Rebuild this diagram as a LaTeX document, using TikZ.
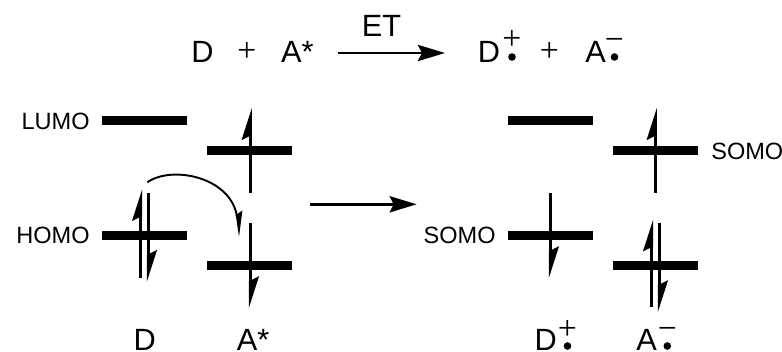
\documentclass[tikz,border=0pt]{standalone}
\usepackage{fontspec}
\setmainfont{Liberation Sans}
\newfontfamily\signfont{Liberation Serif}
\usetikzlibrary{arrows.meta}
\tikzset{
  big/.style={font=\fontsize{17.5}{20}\selectfont, inner sep=0pt, anchor=base west},
  small/.style={font=\fontsize{13.4}{16}\selectfont, inner sep=0pt},
  sign/.style={font=\signfont\fontsize{19.2}{22}\selectfont, inner sep=0pt, anchor=base},
  level/.style={line width=5.12pt},
  spin/.style={line width=1.7pt, -{Stealth[harpoon, length=15.4pt, width=9.7pt, inset=2.3pt]}},
  reaction/.style={line width=1.6pt, -{Stealth[length=15.4pt, width=9.2pt, inset=2.3pt]}},
  hop/.style={line width=1.1pt, -{Stealth[harpoon, length=12.5pt, width=7pt, inset=1.7pt]}},
}
\begin{document}
\begin{tikzpicture}[x=0.02cm, y=-0.02cm]
\useasboundingbox (0,0) rectangle (782,352);
% Orbitale
\foreach \xa/\xb/\yy in {102/187/120, 207/292/150, 102/187/235, 207/292/265,
                         508/593/120, 613/698/150, 508/593/235, 613/698/265}
  \draw[level] (\xa,\yy) -- (\xb,\yy);
% Reaktionsgleichung
\node[big] (eqD) at (191,62) {D};
\node[sign] (eqplusa) at (247,61.5) {+};
\node[big] (eqA) at (280.7,62) {A*};
\node[big] (labET) at (361.6,36.7) {ET};
\coordinate (ETa) at (338,53);
\coordinate (ETb) at (445,53);
\draw[reaction] (ETa) -- (ETb);
\node[big] (eqDr) at (477.6,62) {D};
\node[sign] (eqDplus) at (512,49.5) {+};
\fill (512,57) circle (3.8);
\node[sign] (eqplusb) at (549.5,61.5) {+};
\node[big] (eqAr) at (585,62) {A};
\node[sign] (eqAminus) at (614.5,50.5) {−};
\fill (614.5,57) circle (3.8);
% Beschriftung Orbitale
\node[small, anchor=base east] (labLUMO) at (90,129.5) {LUMO};
\node[small, anchor=base east] (labHOMO) at (90,243.3) {HOMO};
\node[small, anchor=base east] (labSOMOa) at (496,243.3) {SOMO};
\node[small, anchor=base west] (labSOMOb) at (711,159) {SOMO};
% Spins links
\coordinate (Aua) at (250.3,193);
\coordinate (Aub) at (250.3,108);
\coordinate (Ada) at (250.3,223.3);
\coordinate (Adb) at (250.3,308.3);
\coordinate (Dua) at (140.7,277.7);
\coordinate (Dub) at (140.7,189);
\coordinate (Dda) at (148.3,193.3);
\coordinate (Ddb) at (148.3,282);
\draw[spin] (Aua) -- (Aub);
\draw[spin] (Ada) -- (Adb);
\draw[spin] (Dua) -- (Dub);
\draw[spin] (Dda) -- (Ddb);
% Elektronentransfer
\coordinate (hopa) at (147.3,182.3);
\coordinate (hopb) at (240,236.7);
\draw[hop] (hopa) .. controls (172,165) and (231,177) .. (hopb);
% Pfeil Mitte
\coordinate (mida) at (310,204.3);
\coordinate (midb) at (416.7,204.3);
\draw[reaction] (mida) -- (midb);
% Spins rechts
\coordinate (Rua) at (655.3,193);
\coordinate (Rub) at (655.3,108);
\coordinate (Sda) at (550.3,193.3);
\coordinate (Sdb) at (550.3,278.3);
\coordinate (Tua) at (651.7,307.3);
\coordinate (Tub) at (651.7,219.3);
\coordinate (Tda) at (659.3,223.3);
\coordinate (Tdb) at (659.3,312.3);
\draw[spin] (Rua) -- (Rub);
\draw[spin] (Sda) -- (Sdb);
\draw[spin] (Tua) -- (Tub);
\draw[spin] (Tda) -- (Tdb);
% Beschriftung unten
\node[big] (labD) at (133.3,350) {D};
\node[big] (labA) at (236.6,350) {A*};
\node[big] (labDr) at (534.3,350) {D};
\node[sign] (labDplus) at (567.3,339) {+};
\fill (567.5,346) circle (3.8);
\node[big] (labAr) at (636,350) {A};
\node[sign] (labAminus) at (667.3,339.5) {−};
\fill (667.3,346) circle (3.8);
\end{tikzpicture}
\end{document}
